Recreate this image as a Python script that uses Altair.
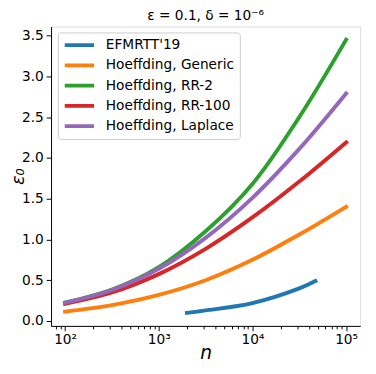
import altair as alt
import pandas as pd

# Data
n_grid = [100, 316, 1000, 3162, 10000, 31623, 100000]
generic = [0.115, 0.195, 0.32, 0.50, 0.75, 1.06, 1.40]
rr2 = [0.225, 0.385, 0.66, 1.10, 1.68, 2.50, 3.45]
rr100 = [0.21, 0.35, 0.575, 0.885, 1.27, 1.71, 2.19]
laplace = [0.225, 0.38, 0.64, 1.02, 1.51, 2.11, 2.79]
efm_n = [2000, 3162, 10000, 31623, 47000]
efm = [0.10, 0.13, 0.22, 0.40, 0.49]

names = ["EFMRTT'19", "Hoeffding, Generic", "Hoeffding, RR-2",
         "Hoeffding, RR-100", "Hoeffding, Laplace"]
colors = ["#1f77b4", "#ff7f0e", "#2ca02c", "#d62728", "#9467bd"]

x_major = [100, 1000, 10000, 100000]
x_minor = [m * d for d in [10, 100, 1000, 10000] for m in range(2, 10)] + [200000]
y_ticks = [0.0, 0.5, 1.0, 1.5, 2.0, 2.5, 3.0, 3.5]

rows = []
for i, (nn, vv) in enumerate(zip(efm_n, efm)):
    rows.append({"series": names[0], "n": nn, "eps0": vv, "i": i})
for k, series in enumerate([generic, rr2, rr100, laplace], start=1):
    for i, (nn, vv) in enumerate(zip(n_grid, series)):
        rows.append({"series": names[k], "n": nn, "eps0": vv, "i": i})
df = pd.DataFrame(rows)

FONT = "DejaVu Sans"

label_expr = ("datum.value == 100 ? '10²' : datum.value == 1000 ? '10³' : "
              "datum.value == 10000 ? '10⁴' : datum.value == 100000 ? '10⁵' : ''")

chart = alt.Chart(df).mark_line(strokeWidth=4, strokeCap="square", interpolate="catmull-rom").encode(
    x=alt.X("n:Q",
            scale=alt.Scale(type="log", domain=[10 ** 1.85, 10 ** 5.15], nice=False),
            axis=alt.Axis(values=x_major + x_minor, labelExpr=label_expr,
                          tickSize={"condition": {"test": "indexof([100,1000,10000,100000], datum.value) >= 0", "value": 5}, "value": 3},
                          labelFontSize=14, labelFont=FONT, labelColor="black",
                          tickColor="black", domainColor="black", grid=False,
                          labelPadding=2, labelFlush=False, labelOverlap=False,
                          title="n", titleFont=FONT, titleFontSize=19, titleFontStyle="italic",
                          titleFontWeight="normal", titleColor="black",
                          titleBaseline="alphabetic", titleY=33, titleX=158, titleAlign="center")),
    y=alt.Y("eps0:Q",
            scale=alt.Scale(domain=[-0.06, 3.61], nice=False, zero=False),
            axis=alt.Axis(values=y_ticks, format=".1f", tickSize=5,
                          labelFontSize=14, labelFont=FONT, labelColor="black",
                          tickColor="black", domainColor="black", grid=False,
                          labelPadding=3, labelFlush=False,
                          title="ε₀", titleFont=FONT, titleFontSize=18, titleFontStyle="italic",
                          titleFontWeight="normal", titleColor="black",
                          titleBaseline="middle", titleAlign="center", titleAngle=270,
                          titleX=-33, titleY=153)),
    color=alt.Color("series:N",
                    scale=alt.Scale(domain=names, range=colors),
                    legend=alt.Legend(orient="none", legendX=7, legendY=6, title=None,
                                      symbolType="stroke", symbolStrokeWidth=4, symbolSize=900,
                                      labelFontSize=14, labelFont=FONT, labelColor="black",
                                      fillColor="rgba(255,255,255,0.8)", strokeColor="#cccccc",
                                      cornerRadius=3, padding=5, clipHeight=16, rowPadding=4.7,
                                      labelOffset=10, labelLimit=0)),
    detail="series:N",
    order="i:Q",
).properties(
    width=316, height=306,
    title=alt.TitleParams("ε = 0.1, δ = 10⁻⁶", font=FONT, fontSize=14, fontWeight="normal",
                          color="black", offset=4, anchor="middle"),
    autosize=alt.AutoSizeParams(type="none"),
    padding={"left": 44, "top": 15, "right": 8, "bottom": 37},
).configure_view(stroke="black", strokeWidth=1).configure(background="white")

chart.save("out.html", embed_options={"renderer": "svg", "actions": False})
